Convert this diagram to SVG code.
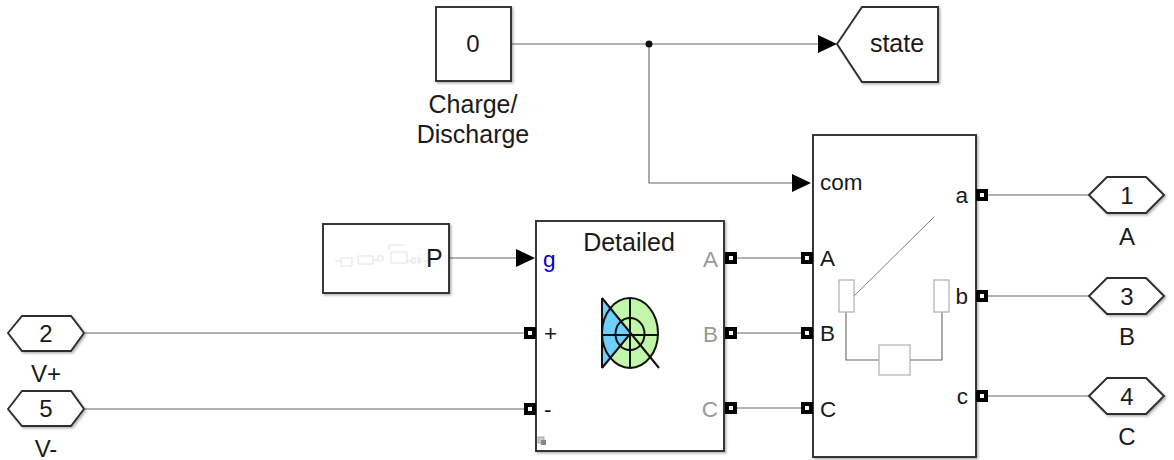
<svg xmlns="http://www.w3.org/2000/svg" width="1174" height="460" viewBox="0 0 1174 460">
<style>
text{font-family:"Liberation Sans",Arial,sans-serif;font-size:24px;fill:#1a1a1a}
.m{text-anchor:middle}.e{text-anchor:end}
.l{font-size:25px}
.p{font-size:22.5px}
.b{fill:#fff;stroke:#2e2e2e;stroke-width:1.9}
.s{filter:url(#sh)}
.w{fill:none;stroke:#666;stroke-width:1.1}
.g{fill:#999}
.i{fill:#fff;stroke:#a8a8a8;stroke-width:1.1}
.t{fill:none;stroke:#dcdcdc;stroke-width:.8}
.k{fill:none;stroke:#111;stroke-width:2}
</style>
<defs>
<filter id="sh" x="-10%" y="-10%" width="125%" height="125%"><feDropShadow dx="1.5" dy="1.5" stdDeviation="1" flood-color="#000" flood-opacity=".3"/></filter>
<g id="port"><rect x="-6" y="-6" width="12" height="12" fill="#000"/><rect x="-2" y="-2" width="4" height="4" fill="#fff"/></g>
<path id="arr" d="M-19,-9L0,0L-19,9Z" fill="#000"/>
</defs>
<rect width="1174" height="460" fill="#fff"/>
<g id="connectors">
<path class="w" d="M511,44H819"/>
<path class="w" d="M649,44V183H793"/>
<circle cx="649" cy="44" r="3.5" fill="#111"/>
<path class="w" d="M449,258H517"/>
<path class="w" d="M85,333H525"/>
<path class="w" d="M85,409H525"/>
<path class="w" d="M735,258H802"/>
<path class="w" d="M735,333H802"/>
<path class="w" d="M735,408H802"/>
<path class="w" d="M987,195H1089"/>
<path class="w" d="M987,296H1089"/>
<path class="w" d="M987,396H1089"/>
<use href="#arr" x="837" y="44"/>
<use href="#arr" x="811" y="183"/>
<use href="#arr" x="535" y="258"/>
</g>
<g id="node-constant">
<rect class="b s" x="436" y="7" width="75" height="74"/>
<text class="m" x="473" y="52">0</text>
<text class="m l" x="473" y="113">Charge/</text>
<text class="m l" x="473" y="143">Discharge</text>
</g>
<g id="node-state">
<path class="b s" d="M837,44L862,7H938V82H862Z"/>
<text class="m l" x="897" y="52">state</text>
</g>
<g id="node-pulse">
<rect class="b s" x="323" y="224" width="126" height="69"/>
<path class="t" d="M335,261H341M341,258h11v8h-11zM358,256h15v8h-15zM373,260h5M378,256h5v5h-5zM391,252h16v11h-16zM389,250v-5h15M407,261h5M412,258h3v5h-3zM418,258h2v5h-2zM424,261h5"/>
<text class="l" x="426" y="267">P</text>
</g>
<g id="node-in2">
<path class="b s" d="M8,333L22,316H71L84,333L71,351H22Z"/>
<text class="m" x="46" y="342">2</text>
<text class="m" x="46" y="382">V+</text>
</g>
<g id="node-in5">
<path class="b s" d="M8,409L22,391H71L84,409L71,426H22Z"/>
<text class="m" x="46" y="417">5</text>
<text class="m" x="46" y="457">V-</text>
</g>
<g id="node-detailed">
<rect class="b s" x="536" y="221" width="188" height="230"/>
<text class="m l" x="629" y="251">Detailed</text>
<text class="p" x="543" y="267" style="fill:#0000d0">g</text>
<text class="p" x="544" y="341">+</text>
<text class="p" x="544" y="417">-</text>
<text class="e g p" x="718" y="267">A</text>
<text class="e g p" x="718" y="342">B</text>
<text class="e g p" x="718" y="417">C</text>
<ellipse cx="630" cy="333" rx="28" ry="35" fill="#c2f7ab"/>
<path d="M602,298L630,334L602,368Z" fill="#6fd0fb"/>
<ellipse cx="630" cy="333" rx="28" ry="35" class="k"/>
<ellipse cx="630" cy="334" rx="14.5" ry="16" class="k"/>
<path class="k" d="M630,298V368M602,335H659M602,298V368M602,298L659,368M602,368L630,334"/>
<rect x="538" y="437" width="6" height="6" fill="#ccc" stroke="#999" stroke-width=".8"/>
<rect x="541" y="440" width="5" height="5" fill="#888"/>
</g>
<g id="node-switch">
<rect class="b s" x="813" y="135" width="163" height="322"/>
<text class="p" x="820" y="190">com</text>
<text class="p" x="820" y="266">A</text>
<text class="p" x="820" y="341">B</text>
<text class="p" x="820" y="417">C</text>
<text class="e p" x="968" y="203">a</text>
<text class="e p" x="968" y="304">b</text>
<text class="e p" x="968" y="404">c</text>
<path d="M854,296L934,217" fill="none" stroke="#808080" stroke-width="1"/>
<path class="w" d="M846,312V360H879M910,360H942V312"/>
<rect class="i" x="839" y="280" width="15" height="32"/>
<rect class="i" x="934" y="280" width="15" height="32"/>
<rect class="i" x="879" y="345" width="31" height="30"/>
</g>
<g id="node-out1">
<path class="b s" d="M1089,195L1107,177H1146L1164,195L1146,213H1107Z"/>
<text class="m" x="1127" y="204">1</text>
<text class="m" x="1127" y="245">A</text>
</g>
<g id="node-out3">
<path class="b s" d="M1089,296L1107,278H1146L1164,296L1146,314H1107Z"/>
<text class="m" x="1127" y="305">3</text>
<text class="m" x="1127" y="345">B</text>
</g>
<g id="node-out4">
<path class="b s" d="M1089,396L1107,378H1146L1164,396L1146,414H1107Z"/>
<text class="m" x="1127" y="405">4</text>
<text class="m" x="1127" y="445">C</text>
</g>
<g id="ports">
<use href="#port" x="530" y="333"/>
<use href="#port" x="530" y="409"/>
<use href="#port" x="731" y="258"/>
<use href="#port" x="731" y="333"/>
<use href="#port" x="731" y="408"/>
<use href="#port" x="807" y="258"/>
<use href="#port" x="807" y="333"/>
<use href="#port" x="807" y="408"/>
<use href="#port" x="982" y="195"/>
<use href="#port" x="982" y="296"/>
<use href="#port" x="982" y="396"/>
</g>
</svg>
